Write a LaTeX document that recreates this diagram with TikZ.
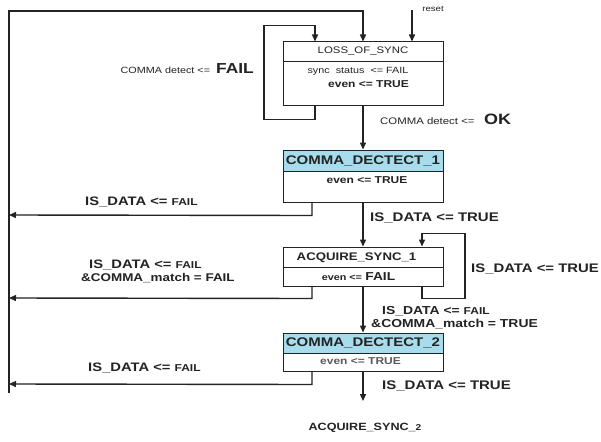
\documentclass[tikz,border=0pt]{standalone}
\usepackage{fontspec}
\setmainfont{Liberation Sans}
\usetikzlibrary{arrows.meta,calc}
\definecolor{band}{RGB}{166,220,235}
\definecolor{ink}{RGB}{35,35,35}
\newcommand\wx[1]{\scalebox{1.2}[1]{#1}}
\newcommand\fs[1]{\fontsize{#1}{#1}\selectfont}
\tikzset{
  box/.style={draw=ink, line width=1pt, minimum width=160pt, inner sep=0pt},
  titleband/.style={draw=ink, line width=1pt, fill=band, minimum width=160pt, minimum height=21pt, inner sep=0pt, anchor=north},
  wire/.style={draw=ink, line width=1.4pt},
  conn/.style={wire, -{Triangle[length=7pt,width=6pt]}},
  txt/.style={text=ink, inner sep=0pt},
}
\begin{document}
\begin{tikzpicture}[x=1pt,y=-1pt]
\useasboundingbox[fill=white] (0,0) rectangle (601,441);

% ---- boxes
\node[box, minimum height=63pt] (loss) at (363,73.5) {};
\draw[ink, line width=0.8pt] (loss.west |- 0,61) -- (loss.east |- 0,61);
\node[box, minimum height=52pt] (cd1) at (363,176) {};
\node[titleband] (cd1t) at (cd1.north) {};
\node[box, minimum height=39pt] (as1) at (363,266.5) {};
\draw[ink, line width=0.8pt] (as1.west |- 0,267.5) -- (as1.east |- 0,267.5);
\node[box, minimum height=38pt] (cd2) at (363,352) {};
\node[titleband, minimum height=20pt] (cd2t) at (cd2.north) {};

% ---- box texts
\node[txt, font=\fs{9.5}] (lossA) at (363,51) {\wx{LOSS\_OF\_SYNC}};
\node[txt, font=\fs{9}] (lossB) at (358,71) {\wx{sync\ \ status\ \ <=\ FAIL}};
\node[txt, font=\fs{10}\bfseries] (lossC) at (368.5,84) {\wx{even <= TRUE}};
\node[txt, font=\fs{12.5}\bfseries] (cd1A) at (363,160.5) {\wx{COMMA\_DECTECT\_1}};
\node[txt, font=\fs{10}\bfseries] (cd1B) at (367,180) {\wx{even <= TRUE}};
\node[txt, font=\fs{11}\bfseries] (as1A) at (356.5,258) {\wx{ACQUIRE\_SYNC\_1}};
\node[txt, font=\bfseries] (as1B) at (358.5,276.5) {\wx{{\fs{9}even <=} {\fs{11.5}FAIL}}};
\node[txt, font=\fs{12.5}\bfseries] (cd2A) at (363,343) {\wx{COMMA\_DECTECT\_2}};
\node[txt, font=\fs{10}\bfseries, text=ink!75] (cd2B) at (360.5,361.5) {\wx{even <= TRUE}};
\node[txt, font=\fs{10.5}\bfseries] (as2) at (365,428) {\wx{ACQUIRE\_SYNC\_{\fs{8.5}2}}};

% ---- labels
\node[txt, font=\fs{8}] (rst) at (433,9) {\wx{reset}};
\node[txt, anchor=east] (lfail) at (254,69) {\wx{\fs{9}COMMA detect <=\ \ {\fs{14.5}\bfseries FAIL}}};
\node[txt, anchor=west] (lok) at (380,119) {\wx{\fs{9.5}COMMA detect <=\ \ \ {\fs{15}\bfseries OK}}};
\node[txt, anchor=west, font=\bfseries] (l1) at (85,202) {\wx{\fs{12.3}IS\_DATA <= {\fs{10}FAIL}}};
\node[txt, anchor=west, font=\bfseries] (l2) at (370,218) {\wx{\fs{12.5}IS\_DATA <= TRUE}};
\node[txt, anchor=west, font=\bfseries] (l3a) at (89,265) {\wx{\fs{12.3}IS\_DATA <= {\fs{10}FAIL}}};
\node[txt, anchor=west, font=\bfseries] (l3b) at (81,278.5) {\wx{\fs{11.2}\&COMMA\_match = FAIL}};
\node[txt, anchor=west, font=\bfseries] (l4) at (471,269) {\wx{\fs{12.4}IS\_DATA <= TRUE}};
\node[txt, anchor=west, font=\bfseries] (l5a) at (382,311) {\wx{\fs{11.6}IS\_DATA <= {\fs{10}FAIL}}};
\node[txt, anchor=west, font=\bfseries] (l5b) at (371,324) {\wx{\fs{11.6}\&COMMA\_match = TRUE}};
\node[txt, anchor=west, font=\bfseries] (l6) at (88,368) {\wx{\fs{12.3}IS\_DATA <= {\fs{10}FAIL}}};
\node[txt, anchor=west, font=\bfseries] (l7) at (382,386) {\wx{\fs{12.5}IS\_DATA <= TRUE}};

% ---- coordinates
\coordinate (rtop) at (412,10);
\coordinate (rail) at (9,11);
\coordinate (railB) at (9,393);
\coordinate (end2) at (363,401);

% ---- connectors
% global return rail into LOSS_OF_SYNC
\draw[conn] (railB) -- (rail) -- (rail -| loss.north) -- (loss.north);
% reset
\draw[conn] (rtop) -- (rtop |- loss.north);
% LOSS self loop
\draw[conn] ($(loss.south)+(-48,0)$) -- ++(0,14) -- ++(-51,0) -- ($(loss.north)+(-99,-16)$) -- ($(loss.north)+(-48,-16)$) -- ($(loss.north)+(-48,0)$);
% LOSS -> CD1
\draw[conn] (loss.south) -- (cd1t.north);
% CD1 fail
\draw[conn] ($(cd1.south)+(-51,0)$) -- ++(0,13) -- (9,215);
% CD1 -> AS1
\draw[conn] (cd1.south) -- (as1.north);
% AS1 fail
\draw[conn] ($(as1.south)+(-51,0)$) -- ++(0,12) -- (9,298);
% AS1 self loop
\draw[conn] ($(as1.south)+(59,0)$) -- ++(0,12) -- ($(as1.south)+(102,12)$) -- ($(as1.north)+(102,-13)$) -- ($(as1.north)+(59,-13)$) -- ($(as1.north)+(59,0)$);
% AS1 -> CD2
\draw[conn] (as1.south) -- (cd2t.north);
% CD2 fail
\draw[conn] ($(cd2.south)+(-51,0)$) -- ++(0,13) -- (9,384);
% CD2 -> ACQUIRE_SYNC_2
\draw[conn] (cd2.south) -- (end2);
\end{tikzpicture}
\end{document}
